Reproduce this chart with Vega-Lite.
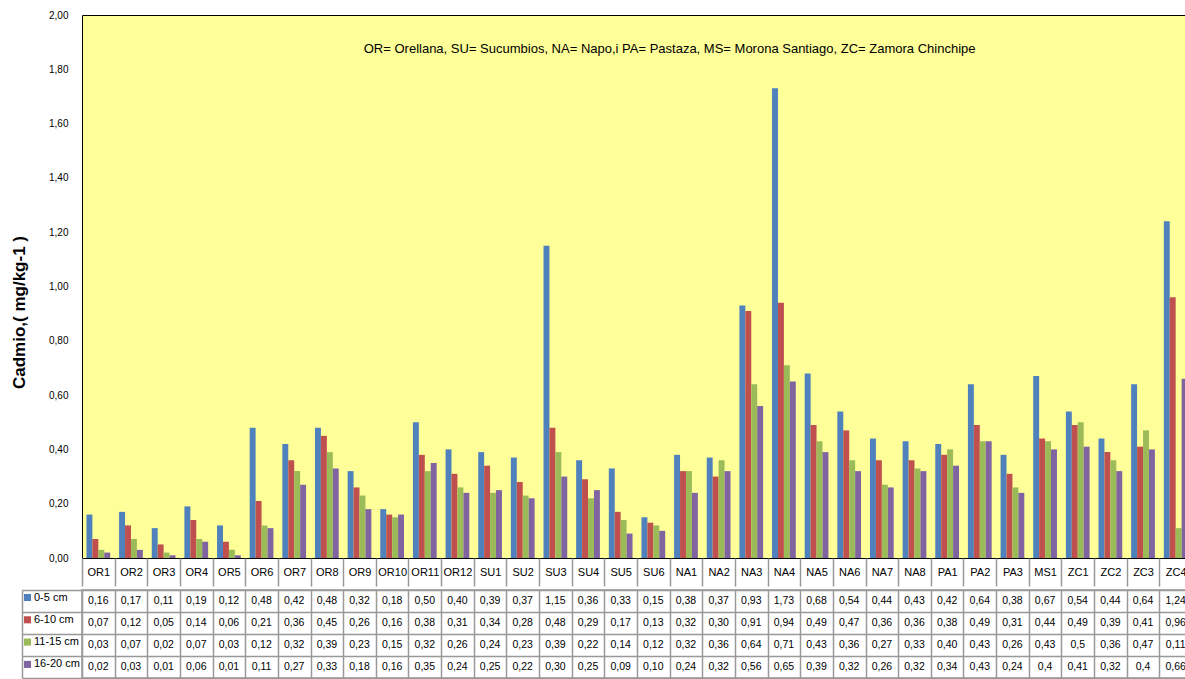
{
"$schema": "https://vega.github.io/schema/vega-lite/v6.json",
"padding": {"left": 10, "top": 9, "right": 0, "bottom": 4},
"config": {"font": "Liberation Sans", "view": {"stroke": null}},
"spacing": 0,
"datasets": {"d": [
{"c":"OR1","s":"0-5 cm","v":0.16,"t":"0,16"},{"c":"OR2","s":"0-5 cm","v":0.17,"t":"0,17"},{"c":"OR3","s":"0-5 cm","v":0.11,"t":"0,11"},{"c":"OR4","s":"0-5 cm","v":0.19,"t":"0,19"},{"c":"OR5","s":"0-5 cm","v":0.12,"t":"0,12"},{"c":"OR6","s":"0-5 cm","v":0.48,"t":"0,48"},{"c":"OR7","s":"0-5 cm","v":0.42,"t":"0,42"},{"c":"OR8","s":"0-5 cm","v":0.48,"t":"0,48"},{"c":"OR9","s":"0-5 cm","v":0.32,"t":"0,32"},{"c":"OR10","s":"0-5 cm","v":0.18,"t":"0,18"},{"c":"OR11","s":"0-5 cm","v":0.50,"t":"0,50"},{"c":"OR12","s":"0-5 cm","v":0.40,"t":"0,40"},
{"c":"SU1","s":"0-5 cm","v":0.39,"t":"0,39"},{"c":"SU2","s":"0-5 cm","v":0.37,"t":"0,37"},{"c":"SU3","s":"0-5 cm","v":1.15,"t":"1,15"},{"c":"SU4","s":"0-5 cm","v":0.36,"t":"0,36"},{"c":"SU5","s":"0-5 cm","v":0.33,"t":"0,33"},{"c":"SU6","s":"0-5 cm","v":0.15,"t":"0,15"},
{"c":"NA1","s":"0-5 cm","v":0.38,"t":"0,38"},{"c":"NA2","s":"0-5 cm","v":0.37,"t":"0,37"},{"c":"NA3","s":"0-5 cm","v":0.93,"t":"0,93"},{"c":"NA4","s":"0-5 cm","v":1.73,"t":"1,73"},{"c":"NA5","s":"0-5 cm","v":0.68,"t":"0,68"},{"c":"NA6","s":"0-5 cm","v":0.54,"t":"0,54"},{"c":"NA7","s":"0-5 cm","v":0.44,"t":"0,44"},{"c":"NA8","s":"0-5 cm","v":0.43,"t":"0,43"},
{"c":"PA1","s":"0-5 cm","v":0.42,"t":"0,42"},{"c":"PA2","s":"0-5 cm","v":0.64,"t":"0,64"},{"c":"PA3","s":"0-5 cm","v":0.38,"t":"0,38"},{"c":"MS1","s":"0-5 cm","v":0.67,"t":"0,67"},
{"c":"ZC1","s":"0-5 cm","v":0.54,"t":"0,54"},{"c":"ZC2","s":"0-5 cm","v":0.44,"t":"0,44"},{"c":"ZC3","s":"0-5 cm","v":0.64,"t":"0,64"},{"c":"ZC4","s":"0-5 cm","v":1.24,"t":"1,24"},
{"c":"OR1","s":"6-10 cm","v":0.07,"t":"0,07"},{"c":"OR2","s":"6-10 cm","v":0.12,"t":"0,12"},{"c":"OR3","s":"6-10 cm","v":0.05,"t":"0,05"},{"c":"OR4","s":"6-10 cm","v":0.14,"t":"0,14"},{"c":"OR5","s":"6-10 cm","v":0.06,"t":"0,06"},{"c":"OR6","s":"6-10 cm","v":0.21,"t":"0,21"},{"c":"OR7","s":"6-10 cm","v":0.36,"t":"0,36"},{"c":"OR8","s":"6-10 cm","v":0.45,"t":"0,45"},{"c":"OR9","s":"6-10 cm","v":0.26,"t":"0,26"},{"c":"OR10","s":"6-10 cm","v":0.16,"t":"0,16"},{"c":"OR11","s":"6-10 cm","v":0.38,"t":"0,38"},{"c":"OR12","s":"6-10 cm","v":0.31,"t":"0,31"},
{"c":"SU1","s":"6-10 cm","v":0.34,"t":"0,34"},{"c":"SU2","s":"6-10 cm","v":0.28,"t":"0,28"},{"c":"SU3","s":"6-10 cm","v":0.48,"t":"0,48"},{"c":"SU4","s":"6-10 cm","v":0.29,"t":"0,29"},{"c":"SU5","s":"6-10 cm","v":0.17,"t":"0,17"},{"c":"SU6","s":"6-10 cm","v":0.13,"t":"0,13"},
{"c":"NA1","s":"6-10 cm","v":0.32,"t":"0,32"},{"c":"NA2","s":"6-10 cm","v":0.30,"t":"0,30"},{"c":"NA3","s":"6-10 cm","v":0.91,"t":"0,91"},{"c":"NA4","s":"6-10 cm","v":0.94,"t":"0,94"},{"c":"NA5","s":"6-10 cm","v":0.49,"t":"0,49"},{"c":"NA6","s":"6-10 cm","v":0.47,"t":"0,47"},{"c":"NA7","s":"6-10 cm","v":0.36,"t":"0,36"},{"c":"NA8","s":"6-10 cm","v":0.36,"t":"0,36"},
{"c":"PA1","s":"6-10 cm","v":0.38,"t":"0,38"},{"c":"PA2","s":"6-10 cm","v":0.49,"t":"0,49"},{"c":"PA3","s":"6-10 cm","v":0.31,"t":"0,31"},{"c":"MS1","s":"6-10 cm","v":0.44,"t":"0,44"},
{"c":"ZC1","s":"6-10 cm","v":0.49,"t":"0,49"},{"c":"ZC2","s":"6-10 cm","v":0.39,"t":"0,39"},{"c":"ZC3","s":"6-10 cm","v":0.41,"t":"0,41"},{"c":"ZC4","s":"6-10 cm","v":0.96,"t":"0,96"},
{"c":"OR1","s":"11-15 cm","v":0.03,"t":"0,03"},{"c":"OR2","s":"11-15 cm","v":0.07,"t":"0,07"},{"c":"OR3","s":"11-15 cm","v":0.02,"t":"0,02"},{"c":"OR4","s":"11-15 cm","v":0.07,"t":"0,07"},{"c":"OR5","s":"11-15 cm","v":0.03,"t":"0,03"},{"c":"OR6","s":"11-15 cm","v":0.12,"t":"0,12"},{"c":"OR7","s":"11-15 cm","v":0.32,"t":"0,32"},{"c":"OR8","s":"11-15 cm","v":0.39,"t":"0,39"},{"c":"OR9","s":"11-15 cm","v":0.23,"t":"0,23"},{"c":"OR10","s":"11-15 cm","v":0.15,"t":"0,15"},{"c":"OR11","s":"11-15 cm","v":0.32,"t":"0,32"},{"c":"OR12","s":"11-15 cm","v":0.26,"t":"0,26"},
{"c":"SU1","s":"11-15 cm","v":0.24,"t":"0,24"},{"c":"SU2","s":"11-15 cm","v":0.23,"t":"0,23"},{"c":"SU3","s":"11-15 cm","v":0.39,"t":"0,39"},{"c":"SU4","s":"11-15 cm","v":0.22,"t":"0,22"},{"c":"SU5","s":"11-15 cm","v":0.14,"t":"0,14"},{"c":"SU6","s":"11-15 cm","v":0.12,"t":"0,12"},
{"c":"NA1","s":"11-15 cm","v":0.32,"t":"0,32"},{"c":"NA2","s":"11-15 cm","v":0.36,"t":"0,36"},{"c":"NA3","s":"11-15 cm","v":0.64,"t":"0,64"},{"c":"NA4","s":"11-15 cm","v":0.71,"t":"0,71"},{"c":"NA5","s":"11-15 cm","v":0.43,"t":"0,43"},{"c":"NA6","s":"11-15 cm","v":0.36,"t":"0,36"},{"c":"NA7","s":"11-15 cm","v":0.27,"t":"0,27"},{"c":"NA8","s":"11-15 cm","v":0.33,"t":"0,33"},
{"c":"PA1","s":"11-15 cm","v":0.40,"t":"0,40"},{"c":"PA2","s":"11-15 cm","v":0.43,"t":"0,43"},{"c":"PA3","s":"11-15 cm","v":0.26,"t":"0,26"},{"c":"MS1","s":"11-15 cm","v":0.43,"t":"0,43"},
{"c":"ZC1","s":"11-15 cm","v":0.5,"t":"0,5"},{"c":"ZC2","s":"11-15 cm","v":0.36,"t":"0,36"},{"c":"ZC3","s":"11-15 cm","v":0.47,"t":"0,47"},{"c":"ZC4","s":"11-15 cm","v":0.11,"t":"0,11"},
{"c":"OR1","s":"16-20 cm","v":0.02,"t":"0,02"},{"c":"OR2","s":"16-20 cm","v":0.03,"t":"0,03"},{"c":"OR3","s":"16-20 cm","v":0.01,"t":"0,01"},{"c":"OR4","s":"16-20 cm","v":0.06,"t":"0,06"},{"c":"OR5","s":"16-20 cm","v":0.01,"t":"0,01"},{"c":"OR6","s":"16-20 cm","v":0.11,"t":"0,11"},{"c":"OR7","s":"16-20 cm","v":0.27,"t":"0,27"},{"c":"OR8","s":"16-20 cm","v":0.33,"t":"0,33"},{"c":"OR9","s":"16-20 cm","v":0.18,"t":"0,18"},{"c":"OR10","s":"16-20 cm","v":0.16,"t":"0,16"},{"c":"OR11","s":"16-20 cm","v":0.35,"t":"0,35"},{"c":"OR12","s":"16-20 cm","v":0.24,"t":"0,24"},
{"c":"SU1","s":"16-20 cm","v":0.25,"t":"0,25"},{"c":"SU2","s":"16-20 cm","v":0.22,"t":"0,22"},{"c":"SU3","s":"16-20 cm","v":0.30,"t":"0,30"},{"c":"SU4","s":"16-20 cm","v":0.25,"t":"0,25"},{"c":"SU5","s":"16-20 cm","v":0.09,"t":"0,09"},{"c":"SU6","s":"16-20 cm","v":0.10,"t":"0,10"},
{"c":"NA1","s":"16-20 cm","v":0.24,"t":"0,24"},{"c":"NA2","s":"16-20 cm","v":0.32,"t":"0,32"},{"c":"NA3","s":"16-20 cm","v":0.56,"t":"0,56"},{"c":"NA4","s":"16-20 cm","v":0.65,"t":"0,65"},{"c":"NA5","s":"16-20 cm","v":0.39,"t":"0,39"},{"c":"NA6","s":"16-20 cm","v":0.32,"t":"0,32"},{"c":"NA7","s":"16-20 cm","v":0.26,"t":"0,26"},{"c":"NA8","s":"16-20 cm","v":0.32,"t":"0,32"},
{"c":"PA1","s":"16-20 cm","v":0.34,"t":"0,34"},{"c":"PA2","s":"16-20 cm","v":0.43,"t":"0,43"},{"c":"PA3","s":"16-20 cm","v":0.24,"t":"0,24"},{"c":"MS1","s":"16-20 cm","v":0.4,"t":"0,4"},
{"c":"ZC1","s":"16-20 cm","v":0.41,"t":"0,41"},{"c":"ZC2","s":"16-20 cm","v":0.32,"t":"0,32"},{"c":"ZC3","s":"16-20 cm","v":0.4,"t":"0,4"},{"c":"ZC4","s":"16-20 cm","v":0.66,"t":"0,66"}
]},
"vconcat": [
{
"width": 1110, "height": 543,
"view": {"fill": "#FFFF99", "stroke": "#000000", "strokeWidth": 1},
"layer": [
{
"data": {"name": "d"},
"mark": {"type": "bar"},
"encoding": {
"x": {"field": "c", "type": "nominal", "sort": null,
"scale": {"domain": ["OR1","OR2","OR3","OR4","OR5","OR6","OR7","OR8","OR9","OR10","OR11","OR12","SU1","SU2","SU3","SU4","SU5","SU6","NA1","NA2","NA3","NA4","NA5","NA6","NA7","NA8","PA1","PA2","PA3","MS1","ZC1","ZC2","ZC3","ZC4"], "paddingInner": 0, "paddingOuter": 0},
"axis": {"orient": "bottom", "title": null, "tickBand": "extent", "tickSize": 28, "tickColor": "#999999", "tickWidth": 1.5, "domain": false, "labelFontSize": 11, "labelColor": "#000", "labelPadding": -20, "labelAngle": 0}},
"xOffset": {"field": "s", "type": "nominal", "scale": {"domain": ["0-5 cm","6-10 cm","11-15 cm","16-20 cm"], "paddingInner": 0, "paddingOuter": 0.75}},
"y": {"field": "v", "type": "quantitative", "scale": {"domain": [0, 2], "nice": false},
"axis": {"values": [0,0.2,0.4,0.6,0.8,1,1.2,1.4,1.6,1.8,2], "labelExpr": "replace(format(datum.value,'.2f'),'.',',')", "title": "Cadmio,( mg/kg-1 )", "titleFontSize": 17, "titleFontWeight": "bold", "titleColor": "#000", "titleY": 297, "labelFontSize": 10, "labelColor": "#000", "ticks": false, "labelPadding": 14, "titlePadding": 20, "grid": false, "domain": false}},
"color": {"field": "s", "type": "nominal", "scale": {"domain": ["0-5 cm","6-10 cm","11-15 cm","16-20 cm"], "range": ["#4F81BD","#C0504D","#9BBB59","#8064A2"]},
"legend": {"orient": "none", "legendX": -60, "legendY": 577, "title": null, "symbolType": "square", "symbolSize": 50, "symbolStrokeWidth": 0, "labelFontSize": 11, "labelColor": "#000", "rowPadding": 10.3, "labelOffset": 1}}
}
},
{
"data": {"values": [{"txt": "OR=  Orellana,   SU= Sucumbios,   NA= Napo,i PA=  Pastaza,  MS= Morona Santiago,  ZC= Zamora Chinchipe"}]},
"mark": {"type": "text", "fontSize": 13, "color": "#000", "align": "center", "baseline": "middle"},
"encoding": {
"x": {"datum": "NA1", "bandPosition": 0},
"y": {"datum": 1.875},
"text": {"field": "txt"}
}
}
]
},
{
"width": 1110, "height": 88,
"view": {"stroke": "#999999", "strokeWidth": 1.5},
"layer": [
{
"data": {"name": "d"},
"mark": {"type": "text", "fontSize": 10.5, "color": "#000"},
"encoding": {
"x": {"field": "c", "type": "nominal", "sort": null,
"scale": {"domain": ["OR1","OR2","OR3","OR4","OR5","OR6","OR7","OR8","OR9","OR10","OR11","OR12","SU1","SU2","SU3","SU4","SU5","SU6","NA1","NA2","NA3","NA4","NA5","NA6","NA7","NA8","PA1","PA2","PA3","MS1","ZC1","ZC2","ZC3","ZC4"], "paddingInner": 0, "paddingOuter": 0},
"axis": {"orient": "top", "grid": true, "tickBand": "extent", "labels": false, "ticks": false, "domain": false, "title": null, "gridColor": "#999999", "gridOpacity": 1, "gridWidth": 1.5}},
"y": {"field": "s", "type": "nominal", "scale": {"domain": ["0-5 cm","6-10 cm","11-15 cm","16-20 cm"], "paddingInner": 0, "paddingOuter": 0},
"axis": {"grid": true, "tickBand": "extent", "labels": false, "ticks": true, "tickSize": -60, "offset": 60, "tickColor": "#999999", "tickWidth": 1.5, "domain": true, "domainColor": "#999999", "domainWidth": 1.5, "title": null, "gridColor": "#999999", "gridOpacity": 1, "gridWidth": 1.5}},
"text": {"field": "t"}
}
}
]
}
]
}
